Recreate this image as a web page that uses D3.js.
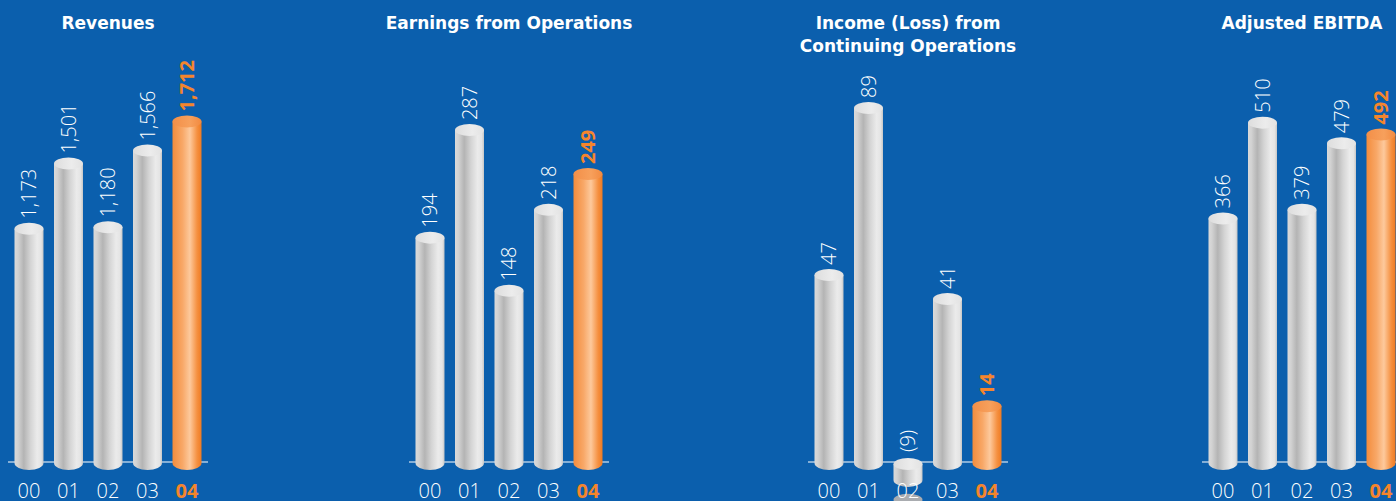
<!DOCTYPE html>
<html>
  <head>
    <meta charset="utf-8">
    <script src="https://d3js.org/d3.v7.min.js"></script>
    <style>
    body {
      margin: 0;
      background-color: #0b5fad;
    }
    svg {
      display: block;
    }
    </style>
  </head>
  <body>
    <script type="text/javascript">
      // data
      let years = ['00', '01', '02', '03', '04']
      let revenues = [1173, 1501, 1180, 1566, 1712]
      let earnings = [194, 287, 148, 218, 249]
      let income = [47, 89, -9, 41, 14]
      let ebitda = [366, 510, 379, 479, 492]
      let revenuesLabels = ['1,173', '1,501', '1,180', '1,566', '1,712']
      let earningsLabels = ['194', '287', '148', '218', '249']
      let incomeLabels = ['47', '89', '(9)', '41', '14']
      let ebitdaLabels = ['366', '510', '379', '479', '492']
      let titles = [['Revenues'], ['Earnings from Operations'], ['Income (Loss) from', 'Continuing Operations'], ['Adjusted EBITDA']]
      let scaleTops = [1820, 313, 91, 544]

      let panels = [
        {title: titles[0], values: revenues, labels: revenuesLabels, top: scaleTops[0], x0: 8},
        {title: titles[1], values: earnings, labels: earningsLabels, top: scaleTops[1], x0: 409},
        {title: titles[2], values: income, labels: incomeLabels, top: scaleTops[2], x0: 808},
        {title: titles[3], values: ebitda, labels: ebitdaLabels, top: scaleTops[3], x0: 1202}
      ]

      let w = 1396
      let h = 501
      let baseline = 462
      let panelW = 200
      let barW = 29
      let ry = 6
      let font = "'Open Sans', 'Noto Sans', sans-serif"

      let svg = d3.select('body')
                  .append('svg')
                  .attr('width', w)
                  .attr('height', h)

      let defs = svg.append('defs')
      function grad(id, stops) {
        let g = defs.append('linearGradient').attr('id', id)
                    .attr('x1', 0).attr('x2', 1).attr('y1', 0).attr('y2', 0)
        stops.forEach(s => g.append('stop').attr('offset', s[0]).attr('stop-color', s[1]))
      }
      grad('grayBody', [[0, '#dadada'], [0.12, '#d2d2d2'], [0.32, '#b4b4b4'], [0.55, '#d4d4d4'], [0.78, '#ebebeb'], [0.92, '#e4e4e4'], [1, '#c6c6c6']])
      grad('grayCap', [[0, '#dddddd'], [0.6, '#ececec'], [1, '#e2e2e2']])
      grad('orangeBody', [[0, '#f38c3c'], [0.35, '#f8a868'], [0.6, '#fdc99c'], [0.85, '#f59040'], [1, '#ee7a22']])
      grad('orangeCap', [[0, '#f38f48'], [0.6, '#f7a05c'], [1, '#f28a40']])

      panels.forEach(p => {
        let g = svg.append('g').attr('transform', `translate(${p.x0}, 0)`)
        let x = d3.scalePoint()
                  .domain(years)
                  .range([21, 179])
        let y = d3.scaleLinear()
                  .domain([0, p.top])
                  .range([baseline, 100])

        // title
        let t = g.append('text')
                 .attr('x', panelW / 2)
                 .attr('y', 29)
                 .attr('text-anchor', 'middle')
                 .style('font-family', "'DejaVu Sans', sans-serif")
                 .style('font-weight', 'bold')
                 .style('font-size', '17px')
                 .style('fill', '#fff')
        p.title.forEach((line, i) => {
          t.append('tspan').attr('x', panelW / 2).attr('dy', i === 0 ? 0 : 23).text(line)
        })

        // axis line
        g.append('line')
         .attr('x1', 0).attr('x2', panelW)
         .attr('y1', baseline).attr('y2', baseline)
         .style('stroke', '#fff')
         .style('stroke-width', 1.2)

        p.values.forEach((v, i) => {
          let last = i === years.length - 1
          let cx = x(years[i])
          let hw = barW / 2
          let yTop, yBot
          if (v >= 0) {
            yTop = y(v)
            yBot = y(0) + 1
          } else {
            yTop = y(0) + 2
            yBot = y(0) + (y(v) - y(0)) / 2
            // shadow of the negative bar
            g.append('ellipse')
             .attr('cx', cx).attr('cy', y(v) + 2)
             .attr('rx', hw).attr('ry', ry)
             .style('fill', '#a9acb0')
          }
          g.append('path')
           .attr('d', `M${cx - hw},${yTop} L${cx - hw},${yBot} A${hw},${ry + 1} 0 0 0 ${cx + hw},${yBot} L${cx + hw},${yTop} Z`)
           .style('fill', last ? 'url(#orangeBody)' : 'url(#grayBody)')
          g.append('ellipse')
           .attr('cx', cx).attr('cy', yTop)
           .attr('rx', hw).attr('ry', ry)
           .style('fill', last ? 'url(#orangeCap)' : 'url(#grayCap)')

          // value label
          let ly = Math.min(yTop, y(0)) - 10
          g.append('text')
           .attr('transform', `translate(${cx + 7}, ${ly}) rotate(-90)`)
           .text(p.labels[i])
           .style('font-family', font)
           .style('font-size', '20px')
           .style('font-weight', last ? 'bold' : 300)
           .style('fill', last ? '#f5852c' : '#fff')

          // year label
          g.append('text')
           .attr('x', cx)
           .attr('y', 498)
           .attr('text-anchor', 'middle')
           .text(years[i])
           .style('font-family', font)
           .style('font-size', '20px')
           .style('font-weight', last ? 'bold' : 300)
           .style('fill', last ? '#f5852c' : '#fff')
        })
      })
    </script>
  </body>
</html>
